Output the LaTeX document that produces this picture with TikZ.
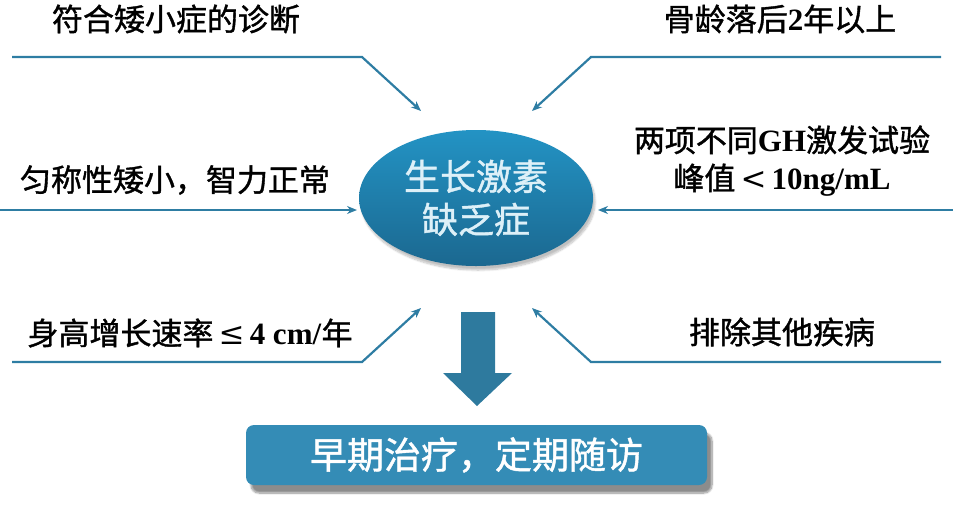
\documentclass[tikz,border=0pt]{standalone}
\usepackage{fontspec}
\setmainfont{Liberation Serif}
\newfontfamily\cjk[FakeBold=1.2]{Noto Sans CJK SC}
\newfontfamily\symf{DejaVu Serif}
\usetikzlibrary{arrows.meta,shadows.blur,shapes.geometric}
\definecolor{linec}{HTML}{2E7DA3}
\definecolor{ellTop}{HTML}{2393C4}
\definecolor{ellBot}{HTML}{1B6890}
\definecolor{arrowc}{HTML}{2E7A9E}
\definecolor{boxc}{HTML}{348CB6}
\definecolor{elltext}{HTML}{DDF0F8}
\tikzset{
  conn/.style={draw=linec, line width=2.2pt, -{Stealth[length=10pt,width=8pt]}},
  lbl/.style={inner sep=0pt, align=center, font=\fontsize{31}{40}\selectfont, text=black},
  ellnode/.style={ellipse, minimum width=234pt, minimum height=136pt, inner sep=0pt,
    top color=ellTop, bottom color=ellBot, draw=none, align=center,
    font=\fontsize{36}{43}\selectfont, text=elltext,
    blur shadow={shadow xshift=2pt, shadow yshift=-4pt, shadow blur steps=8, shadow opacity=25}},
  resbox/.style={rectangle, rounded corners=8pt, minimum width=461pt, minimum height=60pt,
    fill=boxc, draw=none, text=white, font=\fontsize{37}{44}\selectfont,
    blur shadow={shadow xshift=5pt, shadow yshift=-8pt, shadow blur steps=10, shadow opacity=45}},
  downarrow/.style={fill=arrowc, draw=none}
}
\begin{document}
\begin{tikzpicture}[x=1pt,y=-1pt]
\useasboundingbox (0,0) rectangle (953,520);
% centre
\node[ellnode] (gh) at (476,198) {{\cjk 生长激素}\\{\cjk 缺乏症}};
% labels
\node[lbl] (t1) at (176,19) {\cjk 符合矮小症的诊断};
\node[lbl] (t2) at (780,19) {{\cjk 骨龄落后}\textbf{2}{\cjk 年以上}};
\node[lbl] (t3) at (175,180) {\cjk 匀称性矮小，智力正常};
\node[lbl, font=\fontsize{31}{38}\selectfont] (t4) at (782,161) {{\cjk 两项不同}\textbf{GH}{\cjk 激发试验}\\{\cjk 峰值}\,{\symf <}\,\textbf{10ng/mL}};
\node[lbl] (t5) at (190,333) {{\cjk 身高增长速率}\,{\symf ≤}\,\textbf{4 cm/}{\cjk 年}};
\node[lbl] (t6) at (782,332) {\cjk 排除其他疾病};
% connectors
\coordinate (a1s) at (12,57);  \coordinate (a1b) at (362,57);  \coordinate (a1e) at (421,111);
\coordinate (a2s) at (941,57); \coordinate (a2b) at (591,57);  \coordinate (a2e) at (532,111);
\coordinate (a3s) at (0,210);  \coordinate (a3e) at (357,210);
\coordinate (a4s) at (953,210);\coordinate (a4e) at (598,210);
\coordinate (a5s) at (12,362); \coordinate (a5b) at (362,362); \coordinate (a5e) at (421,308);
\coordinate (a6s) at (941,362);\coordinate (a6b) at (591,362); \coordinate (a6e) at (532,308);
\draw[conn] (a1s) -- (a1b) -- (a1e);
\draw[conn] (a2s) -- (a2b) -- (a2e);
\draw[conn] (a3s) -- (a3e);
\draw[conn] (a4s) -- (a4e);
\draw[conn] (a5s) -- (a5b) -- (a5e);
\draw[conn] (a6s) -- (a6b) -- (a6e);
% down arrow
\fill[downarrow] (461,312) -- (495,312) -- (495,373) -- (512,373) -- (477,406) -- (443,373) -- (461,373) -- cycle;
% result box
\node[resbox] (res) at (476.5,455) {\cjk 早期治疗，定期随访};
\end{tikzpicture}
\end{document}
